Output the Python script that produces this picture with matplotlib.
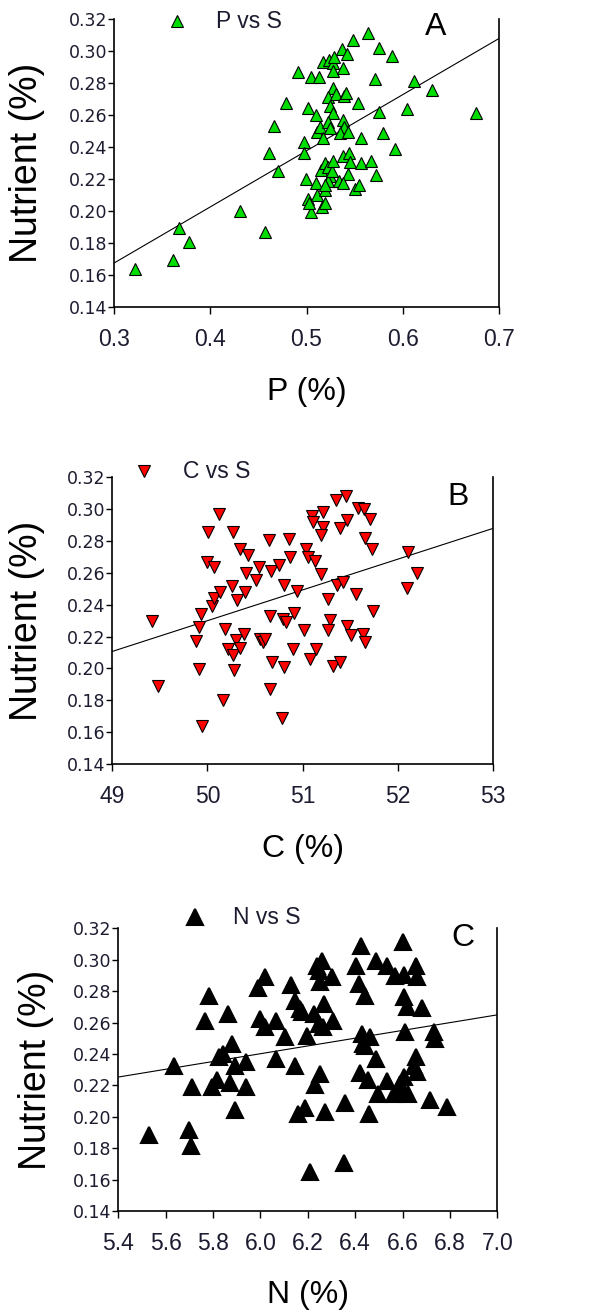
"""Nutrient (S) vs P, C and N scatter panels with fitted lines."""

import matplotlib
matplotlib.use("Agg")
import matplotlib.pyplot as plt

plt.rcParams["font.family"] = ["Liberation Sans", "DejaVu Sans"]

# Panel A: P (%) vs S (%)
p_x = [0.3215, 0.3614, 0.367, 0.378, 0.4307, 0.4567, 0.4612, 0.4664, 0.470, 0.4785,
       0.4906, 0.4976, 0.4972, 0.4993, 0.5017, 0.505, 0.513, 0.510, 0.5113, 0.514,
       0.5166, 0.5097, 0.5017, 0.505, 0.503, 0.5113, 0.5158, 0.519, 0.519, 0.5148,
       0.519, 0.5225, 0.5243, 0.5225, 0.526, 0.5172, 0.5234, 0.5277, 0.529, 0.5277,
       0.5364, 0.5416, 0.538, 0.5277, 0.5225, 0.531, 0.539, 0.5414, 0.5243, 0.5277,
       0.5225, 0.5243, 0.538, 0.539, 0.5346, 0.5433, 0.5485, 0.5634, 0.575, 0.5884,
       0.5707, 0.5534, 0.5754, 0.557, 0.5798, 0.5919, 0.6047, 0.6116, 0.630, 0.6757,
       0.538, 0.5442, 0.5455, 0.557, 0.567, 0.5723, 0.5433, 0.534, 0.538, 0.5503,
       0.5545, 0.5277, 0.519]
p_s = [0.164, 0.1696, 0.1897, 0.1806, 0.2001, 0.1868, 0.2366, 0.2532, 0.2253, 0.2678,
       0.2871, 0.2434, 0.2361, 0.2199, 0.2647, 0.2836, 0.284, 0.260, 0.2497, 0.2524,
       0.2455, 0.2178, 0.2074, 0.1993, 0.205, 0.210, 0.2024, 0.205, 0.2133, 0.2257,
       0.2299, 0.2278, 0.2216, 0.2185, 0.2253, 0.2934, 0.2944, 0.2927, 0.2965, 0.2877,
       0.3011, 0.2979, 0.2892, 0.2767, 0.2715, 0.273, 0.272, 0.274, 0.2657, 0.2611,
       0.2559, 0.2522, 0.257, 0.2528, 0.249, 0.2497, 0.3069, 0.3111, 0.3017, 0.2969,
       0.2825, 0.2678, 0.2622, 0.2455, 0.2486, 0.2389, 0.2638, 0.2815, 0.2757, 0.2611,
       0.2345, 0.2366, 0.2309, 0.2303, 0.2314, 0.2226, 0.2232, 0.219, 0.2178, 0.2139,
       0.2164, 0.2314, 0.2164]

# Panel B: C (%) vs S (%)
c_x = [49.419, 49.479, 49.880, 49.915, 49.943, 49.908, 49.936, 50.006, 50.125, 49.996,
       50.066, 50.048, 50.066, 50.135, 50.163, 50.188, 50.216, 50.268, 50.275, 50.258,
       50.265, 50.310, 50.338, 50.303, 50.345, 50.380, 50.422, 50.404, 50.390, 50.513,
       50.537, 50.555, 50.583, 50.607, 50.642, 50.666, 50.660, 50.677, 50.660, 50.747,
       50.800, 50.792, 50.827, 50.806, 50.782, 50.858, 50.862, 50.904, 50.897, 50.939,
       51.009, 51.037, 51.061, 51.096, 51.107, 51.131, 51.079, 51.142, 51.211, 51.211,
       51.190, 51.190, 51.271, 51.288, 51.264, 51.316, 51.351, 51.452, 51.393, 51.463,
       51.358, 51.421, 51.393, 51.463, 51.508, 51.557, 51.585, 51.648, 51.655, 51.707,
       51.725, 51.638, 51.655, 51.735, 52.109, 52.099, 52.196]
c_s = [0.2296, 0.1889, 0.2171, 0.1999, 0.1638, 0.226, 0.2344, 0.2855, 0.297, 0.2668,
       0.2636, 0.2392, 0.2442, 0.248, 0.1801, 0.225, 0.2125, 0.2083, 0.1989, 0.2517,
       0.2855, 0.2427, 0.2751, 0.2177, 0.2131, 0.2219, 0.2713, 0.2599, 0.248, 0.2557,
       0.2636, 0.2187, 0.2166, 0.2183, 0.2807, 0.2615, 0.2329, 0.2041, 0.1868, 0.2647,
       0.2521, 0.2308, 0.2292, 0.201, 0.169, 0.2814, 0.2699, 0.235, 0.2125, 0.2484,
       0.2244, 0.2747, 0.2699, 0.296, 0.2918, 0.2672, 0.2062, 0.2125, 0.2981, 0.2887,
       0.2835, 0.2594, 0.2438, 0.2302, 0.2244, 0.2014, 0.3058, 0.3085, 0.2881, 0.2933,
       0.2526, 0.2546, 0.2041, 0.2267, 0.2212, 0.2469, 0.3006, 0.3002, 0.282, 0.2939,
       0.2751, 0.2219, 0.2166, 0.2361, 0.273, 0.2507, 0.2599]

# Panel C: N (%) vs S (%)
n_x = [5.530, 5.637, 5.700, 5.706, 5.710, 5.766, 5.784, 5.797, 5.816, 5.841,
       5.862, 5.880, 5.872, 5.891, 5.891, 5.940, 5.940, 5.989, 6.018, 5.999,
       6.020, 6.067, 6.067, 6.105, 6.129, 6.148, 6.148, 6.168, 6.175, 6.196,
       6.158, 6.190, 6.211, 6.225, 6.232, 6.253, 6.246, 6.264, 6.270, 6.260,
       6.246, 6.253, 6.302, 6.271, 6.306, 6.351, 6.356, 6.405, 6.426, 6.415,
       6.443, 6.429, 6.443, 6.461, 6.419, 6.454, 6.458, 6.486, 6.486, 6.497,
       6.535, 6.535, 6.570, 6.563, 6.582, 6.602, 6.608, 6.605, 6.612, 6.619,
       6.605, 6.624, 6.655, 6.662, 6.655, 6.662, 6.683, 6.718, 6.732, 6.739,
       6.786, 6.589, 6.648, 6.433, 6.240, 5.827]
n_s = [0.1883, 0.2323, 0.1915, 0.1815, 0.219, 0.2609, 0.2772, 0.219, 0.2236, 0.2402,
       0.2656, 0.2465, 0.2215, 0.2327, 0.2042, 0.2349, 0.219, 0.2821, 0.2889, 0.2624,
       0.2571, 0.2613, 0.237, 0.2508, 0.2842, 0.2327, 0.274, 0.2687, 0.2666, 0.2512,
       0.202, 0.2058, 0.165, 0.2656, 0.22, 0.2275, 0.2592, 0.2571, 0.2719, 0.2995,
       0.2931, 0.2857, 0.2889, 0.2031, 0.2613, 0.1707, 0.2088, 0.2963, 0.309, 0.2846,
       0.2772, 0.2529, 0.245, 0.2508, 0.2279, 0.2236, 0.202, 0.237, 0.2995, 0.2148,
       0.2963, 0.2228, 0.2899, 0.2148, 0.218, 0.3111, 0.2903, 0.2766, 0.2539, 0.2698,
       0.2253, 0.2148, 0.2963, 0.2893, 0.238, 0.2285, 0.2692, 0.2105, 0.2539, 0.2497,
       0.2063, 0.2211, 0.2327, 0.2465, 0.2963, 0.238]

# fitted lines (slope, intercept)
fit_p = (0.351, 0.0622)
fit_c = (0.01932, -0.736)
fit_n = (0.02475, 0.0917)

y_ticks = [0.14, 0.16, 0.18, 0.20, 0.22, 0.24, 0.26, 0.28, 0.30, 0.32]
TICK_COLOR = "#1c1c30"


def panel(ax, xs, ys, fit, xlim, xticks, xfmt, marker, color, ms, mew,
          legend, letter, xlabel, leg_pos, letter_pos, ylab_x):
    ax.plot(xs, ys, linestyle="none", marker=marker, ms=ms, mfc=color,
            mec="black", mew=mew, zorder=3)
    slope, icpt = fit
    ax.plot(xlim, [slope * xlim[0] + icpt, slope * xlim[1] + icpt],
            color="black", lw=0.8, zorder=2)

    ax.set_xlim(*xlim)
    ax.set_ylim(0.14, 0.32)
    ax.set_xticks(xticks)
    ax.set_xticklabels([xfmt.format(v) for v in xticks])
    ax.set_yticks(y_ticks)
    ax.set_yticklabels([f"{v:.2f}" for v in y_ticks])
    ax.tick_params(axis="y", length=4, width=1, pad=1, labelsize=12.5,
                   labelcolor=TICK_COLOR, direction="out")
    ax.tick_params(axis="x", length=5, width=1, pad=10, labelsize=16.5,
                   labelcolor=TICK_COLOR, direction="out")
    for lab in ax.get_yticklabels():
        lab.set_fontfamily("DejaVu Sans")
    ax.spines["top"].set_visible(False)
    for s in ("left", "bottom", "right"):
        ax.spines[s].set_linewidth(1.2)

    ax.set_ylabel("Nutrient (%)", fontsize=27)
    ax.yaxis.label.set_va("center")
    ax.yaxis.set_label_coords(ylab_x, 0.5)
    ax.set_xlabel(xlabel, fontsize=23)
    ax.xaxis.label.set_va("center")
    ax.xaxis.set_label_coords(0.5, -0.295)

    # legend entry above the plot
    ax.plot([leg_pos[0]], [leg_pos[1]], transform=ax.transAxes, clip_on=False,
            linestyle="none", marker=marker, ms=ms, mfc=color, mec="black", mew=mew)
    ax.text(leg_pos[2], leg_pos[1], legend, transform=ax.transAxes,
            fontsize=16.5, ha="left", va="center", color=TICK_COLOR)
    ax.text(letter_pos[0], letter_pos[1], letter, transform=ax.transAxes,
            fontsize=23, ha="center", va="center")


def main():
    fig = plt.figure(figsize=(5.97, 13.15), dpi=100)
    ax_a = fig.add_axes([0.191, 0.7665, 0.645, 0.219])
    ax_b = fig.add_axes([0.188, 0.419, 0.638, 0.218])
    ax_c = fig.add_axes([0.198, 0.079, 0.635, 0.215])

    panel(ax_a, p_x, p_s, fit_p, (0.3, 0.7), [0.3, 0.4, 0.5, 0.6, 0.7], "{:.1f}",
          "^", "#00dd00", 8.6, 0.8, "P vs S", "A", "P (%)",
          (0.164, 0.993, 0.265), (0.834, 0.972), -0.225)
    panel(ax_b, c_x, c_s, fit_c, (49, 53), [49, 50, 51, 52, 53], "{:.0f}",
          "v", "#ff0000", 8.6, 0.8, "C vs S", "B", "C (%)",
          (0.084, 1.021, 0.186), (0.908, 0.93), -0.225)
    panel(ax_c, n_x, n_s, fit_n, (5.4, 7.0),
          [5.4, 5.6, 5.8, 6.0, 6.2, 6.4, 6.6, 6.8, 7.0], "{:.1f}",
          "^", "black", 11.5, 1.5, "N vs S", "C", "N (%)",
          (0.203, 1.039, 0.303), (0.91, 0.965), -0.218)

    fig.savefig("out.png", dpi=100)
    plt.close(fig)


if __name__ == "__main__":
    main()
